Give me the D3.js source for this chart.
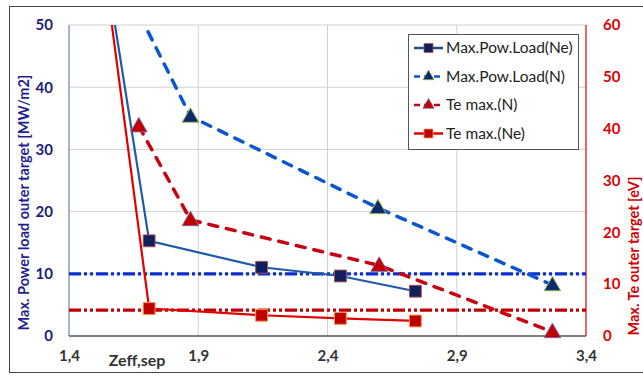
<!DOCTYPE html>
<html><head><meta charset="utf-8">
<script src="https://cdn.jsdelivr.net/npm/d3@7"></script>
<style>
html,body{margin:0;padding:0;background:#fff;}
svg{display:block;font-family:"Lato","Open Sans",sans-serif;}
</style></head>
<body>
<svg id="chart" width="643" height="376"></svg>
<script>
// ---- data ----
const xTicks = [1.4, 1.9, 2.4, 2.9, 3.4];
const xTickLabels = ["1,4", "1,9", "2,4", "2,9", "3,4"];
const yLeftTicks = [0, 10, 20, 30, 40, 50];
const yRightTicks = [0, 10, 20, 30, 40, 50, 60];

const zeffNe = [1.5, 1.71, 2.145, 2.45, 2.74];
const powLoadNe = [70.5, 15.3, 11.05, 9.65, 7.2];
const teMaxNe = [85, 5.3, 4.0, 3.4, 2.9];

const zeffPowN = [1.706, 1.87, 2.595, 3.27];
const powLoadN = [48.9, 35.3, 20.6, 8.2];
const powNMarkerFrom = 1; // first point drawn without a marker

const zeffTeN = [1.67, 1.87, 2.60, 3.27];
const teMaxN = [40.5, 22.4, 13.6, 0.8];

const limitPow = 10;  // MW/m2 (left axis)
const limitTe = 5;    // eV (right axis)

const legendNames = ["Max.Pow.Load(Ne)", "Max.Pow.Load(N)", "Te max.(N)", "Te max.(Ne)"];

// ---- layout ----
const svg = d3.select("#chart");
const L = 69, R = 586, T = 25, B = 336;
const x = d3.scaleLinear().domain([1.4, 3.4]).range([L, R]);
const yL = d3.scaleLinear().domain([0, 50]).range([B, T]);
const yR = d3.scaleLinear().domain([0, 60]).range([B, T]);

// outer frame
svg.append("rect").attr("x", 9.5).attr("y", 6.5).attr("width", 640).attr("height", 366)
  .attr("fill", "#fff").attr("stroke", "#444").attr("stroke-width", 1);

const defs = svg.append("defs");
defs.append("clipPath").attr("id", "clip").append("rect")
  .attr("x", L).attr("y", T).attr("width", R - L).attr("height", B - T);

// gridlines
const grid = svg.append("g").attr("stroke", "#d0d0d0").attr("stroke-width", 1);
yLeftTicks.filter(d => d > 0).forEach(d => {
  grid.append("line").attr("x1", L).attr("x2", R).attr("y1", yL(d)).attr("y2", yL(d));
});
xTicks.filter(d => d > 1.4 && d < 3.4).forEach(d => {
  grid.append("line").attr("x1", x(d)).attr("x2", x(d)).attr("y1", T).attr("y2", B);
});

// axes lines
svg.append("line").attr("x1", L).attr("x2", L).attr("y1", T).attr("y2", B).attr("stroke", "#8b9dc3").attr("stroke-width", 1.5);
svg.append("line").attr("x1", R).attr("x2", R).attr("y1", T).attr("y2", B).attr("stroke", "#e00000").attr("stroke-width", 1.2);
svg.append("line").attr("x1", L).attr("x2", R).attr("y1", B).attr("y2", B).attr("stroke", "#555").attr("stroke-width", 1.5);

// axis tick labels via d3 axes
const axL = svg.append("g").attr("transform", `translate(${L},0)`)
  .call(d3.axisLeft(yL).tickValues(yLeftTicks).tickSize(0).tickPadding(16));
axL.select(".domain").remove();
axL.selectAll("text").attr("font-size", 15).attr("font-weight", "bold").attr("fill", "#1c1c7c")
  .attr("font-family", "Lato, sans-serif");

const axR = svg.append("g").attr("transform", `translate(${R},0)`)
  .call(d3.axisRight(yR).tickValues(yRightTicks).tickSize(0).tickPadding(17));
axR.select(".domain").remove();
axR.selectAll("text").attr("font-size", 15).attr("font-weight", "bold").attr("fill", "#e00000")
  .attr("font-family", "Lato, sans-serif");

const axB = svg.append("g").attr("transform", `translate(0,${B})`)
  .call(d3.axisBottom(x).tickValues(xTicks).tickFormat((d, i) => xTickLabels[i]).tickSize(0).tickPadding(14));
axB.select(".domain").remove();
axB.selectAll("text").attr("font-size", 15).attr("font-weight", "bold").attr("fill", "#333")
  .attr("font-family", "Lato, sans-serif");

// axis titles
svg.append("text").attr("transform", `translate(29,${(T + B) / 2 + 22}) rotate(-90)`)
  .attr("text-anchor", "middle").attr("font-size", 14.5).attr("font-weight", "bold")
  .attr("fill", "#1f1f8f").text("Max. Power load outer target [MW/m2]");
svg.append("text").attr("transform", `translate(639,${256}) rotate(-90)`)
  .attr("text-anchor", "middle").attr("font-size", 14.5).attr("font-weight", "bold")
  .attr("fill", "#d00000").text("Max. Te outer target [eV]");
svg.append("text").attr("x", 137).attr("y", 366).attr("text-anchor", "middle")
  .attr("font-size", 16).attr("font-weight", "bold").attr("fill", "#333").text("Zeff,sep");

// plot group
const plot = svg.append("g").attr("clip-path", "url(#clip)");

// limit lines
const ddd = "12,3,3,3,3,3";
plot.append("line").attr("x1", L).attr("x2", R).attr("y1", yL(limitPow)).attr("y2", yL(limitPow))
  .attr("stroke", "#0a2fd0").attr("stroke-width", 3.2).attr("stroke-dasharray", ddd);
plot.append("line").attr("x1", L).attr("x2", R).attr("y1", yR(limitTe)).attr("y2", yR(limitTe))
  .attr("stroke", "#c00000").attr("stroke-width", 3.2).attr("stroke-dasharray", ddd);

const lineGen = (xs, ys, yScale) => d3.line()(xs.map((v, i) => [x(v), yScale(ys[i])]));

// series lines
plot.append("path").attr("d", lineGen(zeffPowN, powLoadN, yL)).attr("fill", "none")
  .attr("stroke", "#0a55d0").attr("stroke-width", 3.5).attr("stroke-dasharray", "9,9").attr("stroke-linecap", "round");
plot.append("path").attr("d", lineGen(zeffTeN, teMaxN, yR)).attr("fill", "none")
  .attr("stroke", "#c8000f").attr("stroke-width", 3.5).attr("stroke-dasharray", "9,9").attr("stroke-linecap", "round");
plot.append("path").attr("d", lineGen(zeffNe, powLoadNe, yL)).attr("fill", "none")
  .attr("stroke", "#1f5aa6").attr("stroke-width", 2.2);
plot.append("path").attr("d", lineGen(zeffNe, teMaxNe, yR)).attr("fill", "none")
  .attr("stroke", "#e00000").attr("stroke-width", 2.2);

// markers
const sq = d3.symbol().type(d3.symbolSquare).size(140);
const tri = d3.symbol().type(d3.symbolTriangle).size(120);
defs.append("clipPath").attr("id", "clipM").append("rect")
  .attr("x", L - 10).attr("y", T).attr("width", R - L + 20).attr("height", B - T + 10);
const mk = svg.append("g").attr("clip-path", "url(#clipM)");

zeffNe.forEach((v, i) => {
  mk.append("path").attr("d", sq).attr("transform", `translate(${x(v)},${yL(powLoadNe[i])})`)
    .attr("fill", "#0d1f5c").attr("stroke", "#b0504d").attr("stroke-width", 1);
  mk.append("path").attr("d", sq).attr("transform", `translate(${x(v)},${yR(teMaxNe[i])})`)
    .attr("fill", "#c00000").attr("stroke", "#f79646").attr("stroke-width", 1);
});
zeffPowN.forEach((v, i) => {
  if (i < powNMarkerFrom) return;
  mk.append("path").attr("d", tri).attr("transform", `translate(${x(v)},${yL(powLoadN[i]) + 1})`)
    .attr("fill", "#0d2a6b").attr("stroke", "#9bbb59").attr("stroke-width", 1);
});
zeffTeN.forEach((v, i) => {
  mk.append("path").attr("d", tri).attr("transform", `translate(${x(v)},${yR(teMaxN[i]) + 1})`)
    .attr("fill", "#c00000").attr("stroke", "#8064a2").attr("stroke-width", 1);
});

// legend
const lg = svg.append("g");
lg.append("rect").attr("x", 408.5).attr("y", 34.5).attr("width", 170).attr("height", 115)
  .attr("fill", "#fff").attr("stroke", "#555").attr("stroke-width", 1);
const legStyles = [
  {stroke: "#1f4e8c", dash: null, sym: "sq", fill: "#0d1f5c", ms: "#b0504d"},
  {stroke: "#0a55d0", dash: "6,4", sym: "tri", fill: "#0d2a6b", ms: "#9bbb59"},
  {stroke: "#c8000f", dash: "6,4", sym: "tri", fill: "#c00000", ms: "#8064a2"},
  {stroke: "#e00000", dash: null, sym: "sq", fill: "#c00000", ms: "#f79646"}
];
const symSmall = {sq: d3.symbol().type(d3.symbolSquare).size(80), tri: d3.symbol().type(d3.symbolTriangle).size(55)};
legendNames.forEach((name, i) => {
  const yy = 48 + i * 28.5;
  const st = legStyles[i];
  lg.append("line").attr("x1", 414).attr("x2", 443).attr("y1", yy).attr("y2", yy)
    .attr("stroke", st.stroke).attr("stroke-width", 2.5).attr("stroke-dasharray", st.dash);
  lg.append("path").attr("d", symSmall[st.sym])
    .attr("transform", `translate(428.5,${yy})`).attr("fill", st.fill).attr("stroke", st.ms).attr("stroke-width", 0.8);
  lg.append("text").attr("x", 446).attr("y", yy + 5).attr("font-size", 15.5).attr("fill", "#222").text(name);
});
</script>
</body></html>
